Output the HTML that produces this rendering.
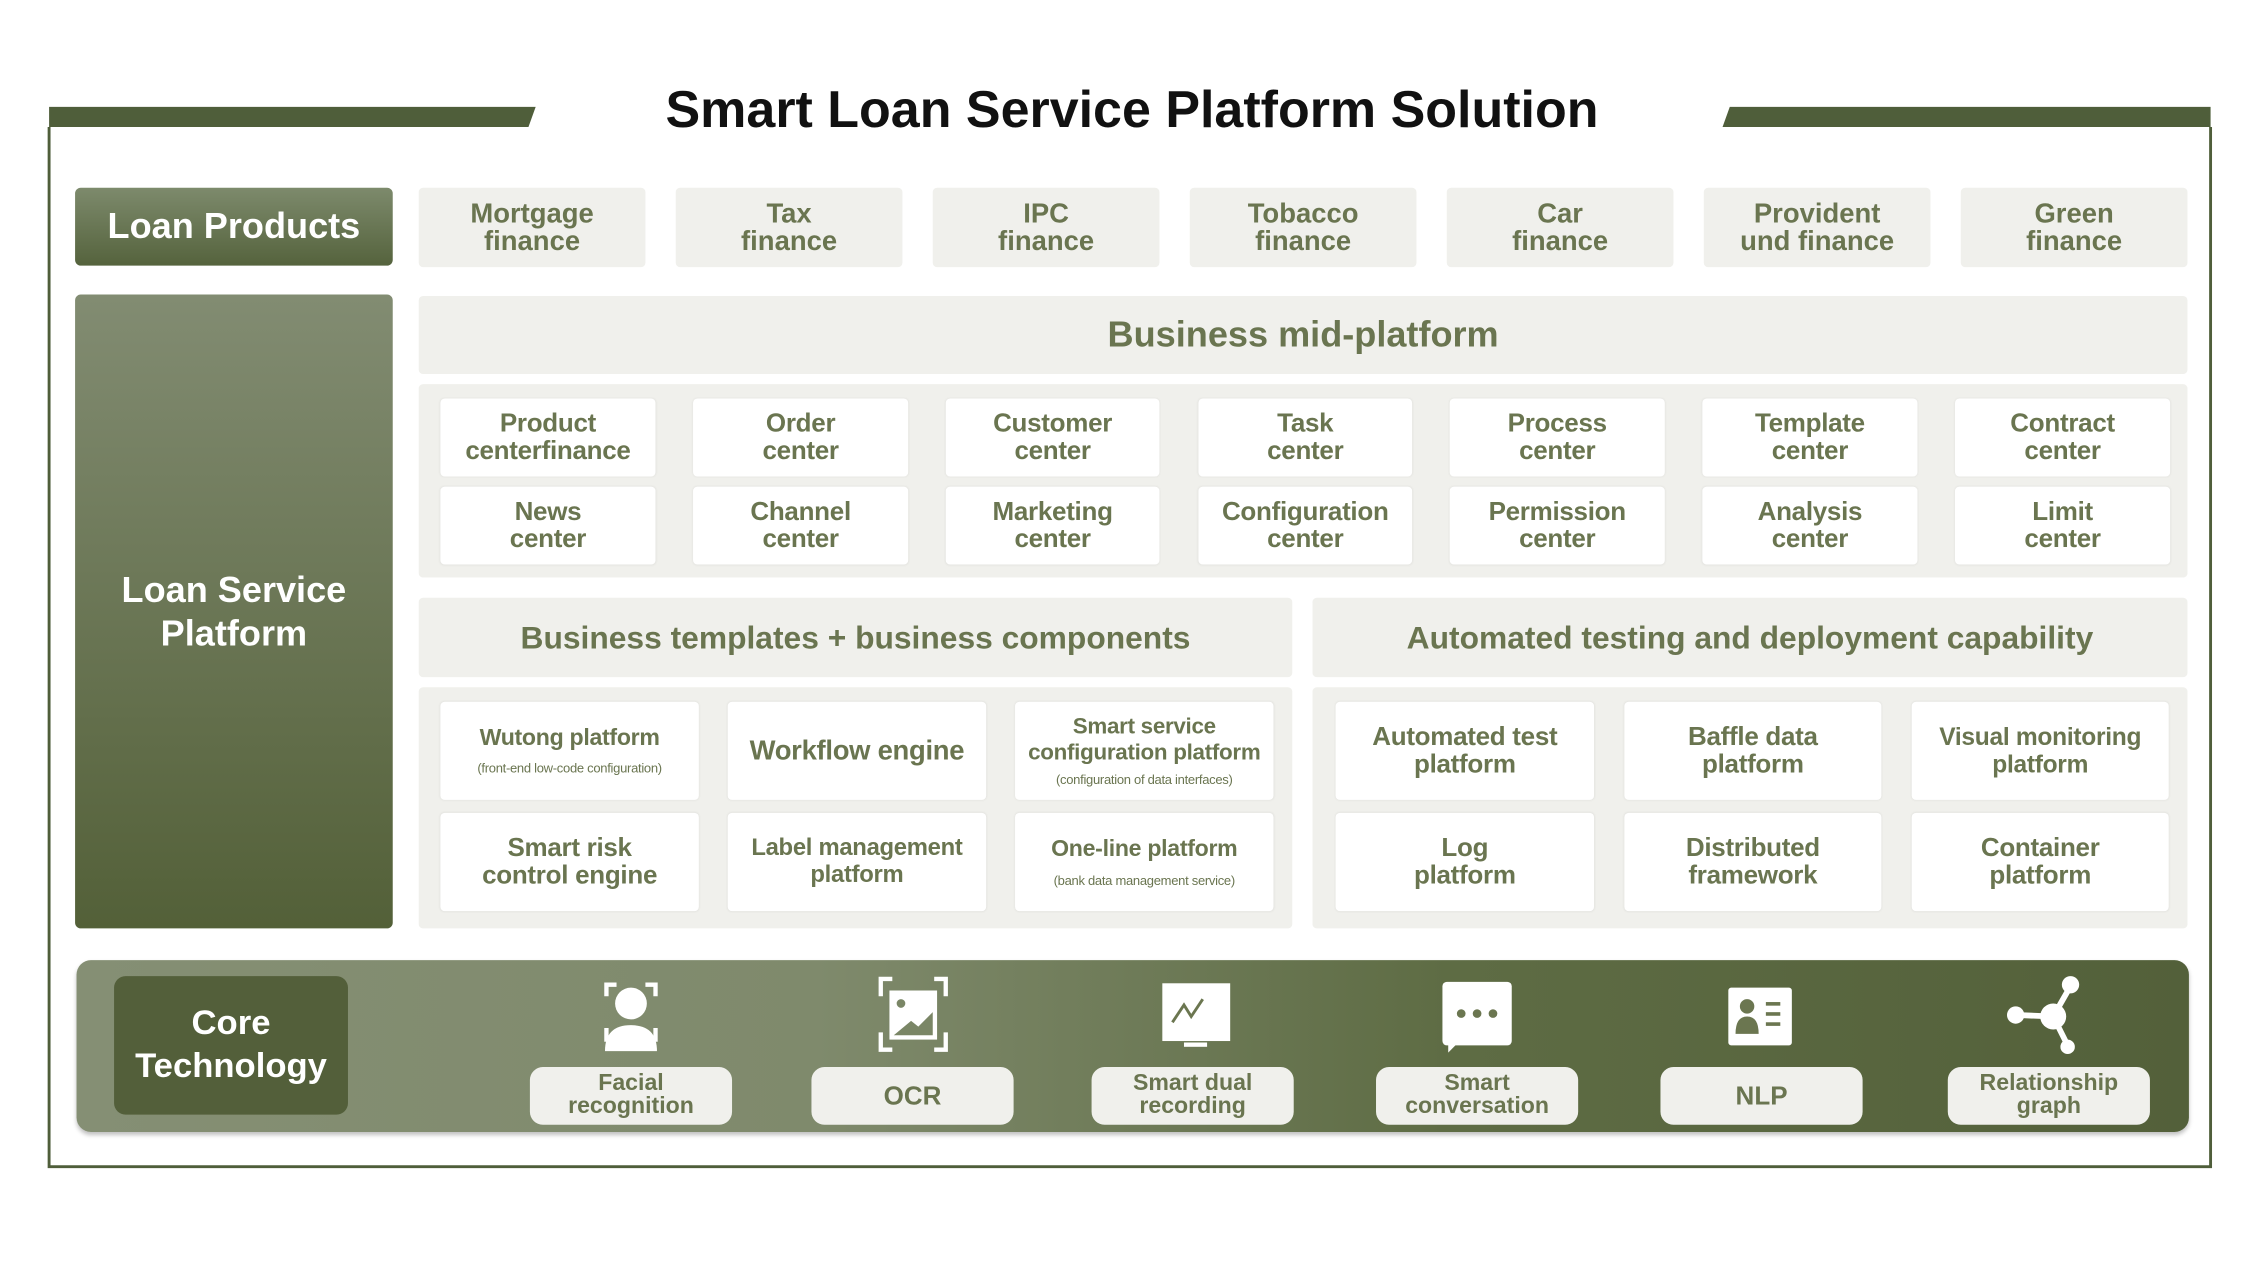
<!DOCTYPE html>
<html><head><meta charset="utf-8"><style>
*{margin:0;padding:0;box-sizing:border-box}
html,body{width:2264px;height:1274px;overflow:hidden;background:#fff}
#w{position:absolute;left:0;top:0;width:1568px;height:882px;transform:scale(1.44388);transform-origin:0 0;font-family:"Liberation Sans",sans-serif;font-weight:bold}
.a{position:absolute}
.c{display:flex;align-items:center;justify-content:center;text-align:center;white-space:nowrap}
.p{background:#f0f0ec;color:#6a7550;font-size:19px;line-height:19px;border-radius:3px}
.w{background:#fff;color:#6a7550;font-size:18px;line-height:19px;border-radius:3px;box-shadow:0 0 2px rgba(0,0,0,.08);letter-spacing:-0.2px}
.s{font-size:9px;line-height:12px;font-weight:normal;display:block}
.pill{position:absolute;top:739px;width:140px;height:40px;background:#f0f0ec;border-radius:9px;color:#6a7550;font-size:16px;line-height:16px}
</style></head><body><div id="w">
<svg class="a" style="left:0;top:0" width="1568" height="882">
<polygon points="34,74 371,74 366,88 34,88" fill="#4f5e3a"/>
<polygon points="1198,74 1531,74 1531,88 1193,88" fill="#4f5e3a"/>
<polyline points="34,88 34,808 1531,808 1531,88" fill="none" stroke="#4f5e3a" stroke-width="2"/>
</svg>
<div class="a c" style="left:370px;top:52px;width:828px;height:48px;font-size:36px;color:#111">Smart Loan Service Platform Solution</div>
<div class="a c" style="left:52px;top:130px;width:220px;height:54px;border-radius:4px;background:linear-gradient(#7d8a6c,#55633d);color:#fff;font-size:25px">Loan Products</div>
<div class="a c p" style="left:290px;top:130px;width:157px;height:55px">Mortgage<br>finance</div>
<div class="a c p" style="left:468px;top:130px;width:157px;height:55px">Tax<br>finance</div>
<div class="a c p" style="left:646px;top:130px;width:157px;height:55px">IPC<br>finance</div>
<div class="a c p" style="left:824px;top:130px;width:157px;height:55px">Tobacco<br>finance</div>
<div class="a c p" style="left:1002px;top:130px;width:157px;height:55px">Car<br>finance</div>
<div class="a c p" style="left:1180px;top:130px;width:157px;height:55px">Provident<br>und finance</div>
<div class="a c p" style="left:1358px;top:130px;width:157px;height:55px">Green<br>finance</div>
<div class="a c" style="left:52px;top:204px;width:220px;height:439px;border-radius:4px;background:linear-gradient(#828c72,#536038);color:#fff;font-size:25px;line-height:30px">Loan Service<br>Platform</div>
<div class="a c p" style="left:290px;top:205px;width:1225px;height:54px;font-size:25px">Business mid-platform</div>
<div class="a p" style="left:290px;top:266px;width:1225px;height:134px"></div>
<div class="a c w" style="left:305px;top:276px;width:149px;height:54px">Product<br>centerfinance</div>
<div class="a c w" style="left:480px;top:276px;width:149px;height:54px">Order<br>center</div>
<div class="a c w" style="left:655px;top:276px;width:148px;height:54px">Customer<br>center</div>
<div class="a c w" style="left:830px;top:276px;width:148px;height:54px">Task<br>center</div>
<div class="a c w" style="left:1004px;top:276px;width:149px;height:54px">Process<br>center</div>
<div class="a c w" style="left:1179px;top:276px;width:149px;height:54px">Template<br>center</div>
<div class="a c w" style="left:1354px;top:276px;width:149px;height:54px">Contract<br>center</div>
<div class="a c w" style="left:305px;top:337px;width:149px;height:54px">News<br>center</div>
<div class="a c w" style="left:480px;top:337px;width:149px;height:54px">Channel<br>center</div>
<div class="a c w" style="left:655px;top:337px;width:148px;height:54px">Marketing<br>center</div>
<div class="a c w" style="left:830px;top:337px;width:148px;height:54px">Configuration<br>center</div>
<div class="a c w" style="left:1004px;top:337px;width:149px;height:54px">Permission<br>center</div>
<div class="a c w" style="left:1179px;top:337px;width:149px;height:54px">Analysis<br>center</div>
<div class="a c w" style="left:1354px;top:337px;width:149px;height:54px">Limit<br>center</div>
<div class="a c p" style="left:290px;top:414px;width:605px;height:55px;font-size:22px">Business templates + business components</div>
<div class="a c p" style="left:909px;top:414px;width:606px;height:55px;font-size:22px">Automated testing and deployment capability</div>
<div class="a p" style="left:290px;top:476px;width:605px;height:167px"></div>
<div class="a p" style="left:909px;top:476px;width:606px;height:167px"></div>
<div class="a c w" style="left:305px;top:486px;width:179px;height:68px;font-size:16px"><div>Wutong platform<span class="s" style="margin-top:5px">(front-end low-code configuration)</span></div></div>
<div class="a c w" style="left:504px;top:486px;width:179px;height:68px;font-size:19px">Workflow engine</div>
<div class="a c w" style="left:703px;top:486px;width:179px;height:68px;font-size:15.5px;line-height:18px"><div>Smart service<br>configuration platform<span class="s" style="margin-top:3px">(configuration of data interfaces)</span></div></div>
<div class="a c w" style="left:305px;top:563px;width:179px;height:68px">Smart risk<br>control engine</div>
<div class="a c w" style="left:504px;top:563px;width:179px;height:68px;font-size:16.5px">Label management<br>platform</div>
<div class="a c w" style="left:703px;top:563px;width:179px;height:68px;font-size:16px"><div>One-line platform<span class="s" style="margin-top:6px">(bank data management service)</span></div></div>
<div class="a c w" style="left:925px;top:486px;width:179px;height:68px">Automated test<br>platform</div>
<div class="a c w" style="left:1125px;top:486px;width:178px;height:68px">Baffle data<br>platform</div>
<div class="a c w" style="left:1324px;top:486px;width:178px;height:68px;font-size:17px">Visual monitoring<br>platform</div>
<div class="a c w" style="left:925px;top:563px;width:179px;height:68px">Log<br>platform</div>
<div class="a c w" style="left:1125px;top:563px;width:178px;height:68px">Distributed<br>framework</div>
<div class="a c w" style="left:1324px;top:563px;width:178px;height:68px">Container<br>platform</div>
<div class="a" style="left:53px;top:665px;width:1463px;height:119px;border-radius:10px;background:linear-gradient(90deg,#858f74 0%,#7f8a6c 35%,#5e6c44 65%,#53603a 100%);box-shadow:0 2px 3px rgba(0,0,0,.25)"></div>
<div class="a c" style="left:79px;top:676px;width:162px;height:96px;border-radius:8px;background:#535f3a;color:#fff;font-size:24px;line-height:30px">Core<br>Technology</div>
<svg class="a" style="left:0;top:0" width="1568" height="882" fill="#fff" stroke="#fff">
<g fill="none" stroke-width="3"><path d="M420 690v-8h7M447 682h7v8M420 712v8h5M454 712v8h-5"/></g>
<circle cx="437" cy="695" r="11" stroke="none"/><path d="M419 728q0-18 18-18q18 0 18 18z" stroke="none"/>
<g fill="none" stroke-width="3"><path d="M610 690v-12h8M647 678h8v12M610 715v12h8M655 715v12h-8"/></g>
<rect x="616" y="686" width="33" height="34" stroke="none"/>
<circle cx="624" cy="695" r="3" fill="#7a8666" stroke="none"/><path d="M619 717l12-10 5 4 10-10v16z" fill="#7a8666" stroke="none"/>
<rect x="805" y="681" width="47" height="40" stroke="none"/><rect x="820" y="722" width="16" height="3" stroke="none"/>
<path d="M812 708l8-12 5 8 8-12" fill="none" stroke="#6b7650" stroke-width="2"/>
<rect x="999" y="680" width="48" height="44" rx="3" stroke="none"/><path d="M1003 722v7l6-6z" stroke="none"/>
<g fill="#6b7650" stroke="none"><circle cx="1012" cy="702" r="3"/><circle cx="1023" cy="702" r="3"/><circle cx="1034" cy="702" r="3"/></g>
<rect x="1197" y="684" width="44" height="40" rx="2" stroke="none"/>
<g fill="#6b7650" stroke="none"><circle cx="1210" cy="697" r="5"/><path d="M1202 716q0-12 8-12q8 0 8 12z"/><rect x="1223" y="694" width="10" height="2.5"/><rect x="1223" y="701" width="10" height="2.5"/><rect x="1223" y="708" width="10" height="2.5"/></g>
<g stroke-width="4"><line x1="1422" y1="704" x2="1434" y2="683"/><line x1="1422" y1="704" x2="1397" y2="703"/><line x1="1422" y1="704" x2="1432" y2="724"/></g>
<circle cx="1422" cy="704" r="9" stroke="none"/><circle cx="1434" cy="682" r="6" stroke="none"/><circle cx="1396" cy="703" r="6" stroke="none"/><circle cx="1432" cy="725" r="5" stroke="none"/>
</svg>
<div class="pill c" style="left:367px">Facial<br>recognition</div>
<div class="pill c" style="left:562px;font-size:18px">OCR</div>
<div class="pill c" style="left:756px">Smart dual<br>recording</div>
<div class="pill c" style="left:953px">Smart<br>conversation</div>
<div class="pill c" style="left:1150px;font-size:18px">NLP</div>
<div class="pill c" style="left:1349px">Relationship<br>graph</div>
</div></body></html>
